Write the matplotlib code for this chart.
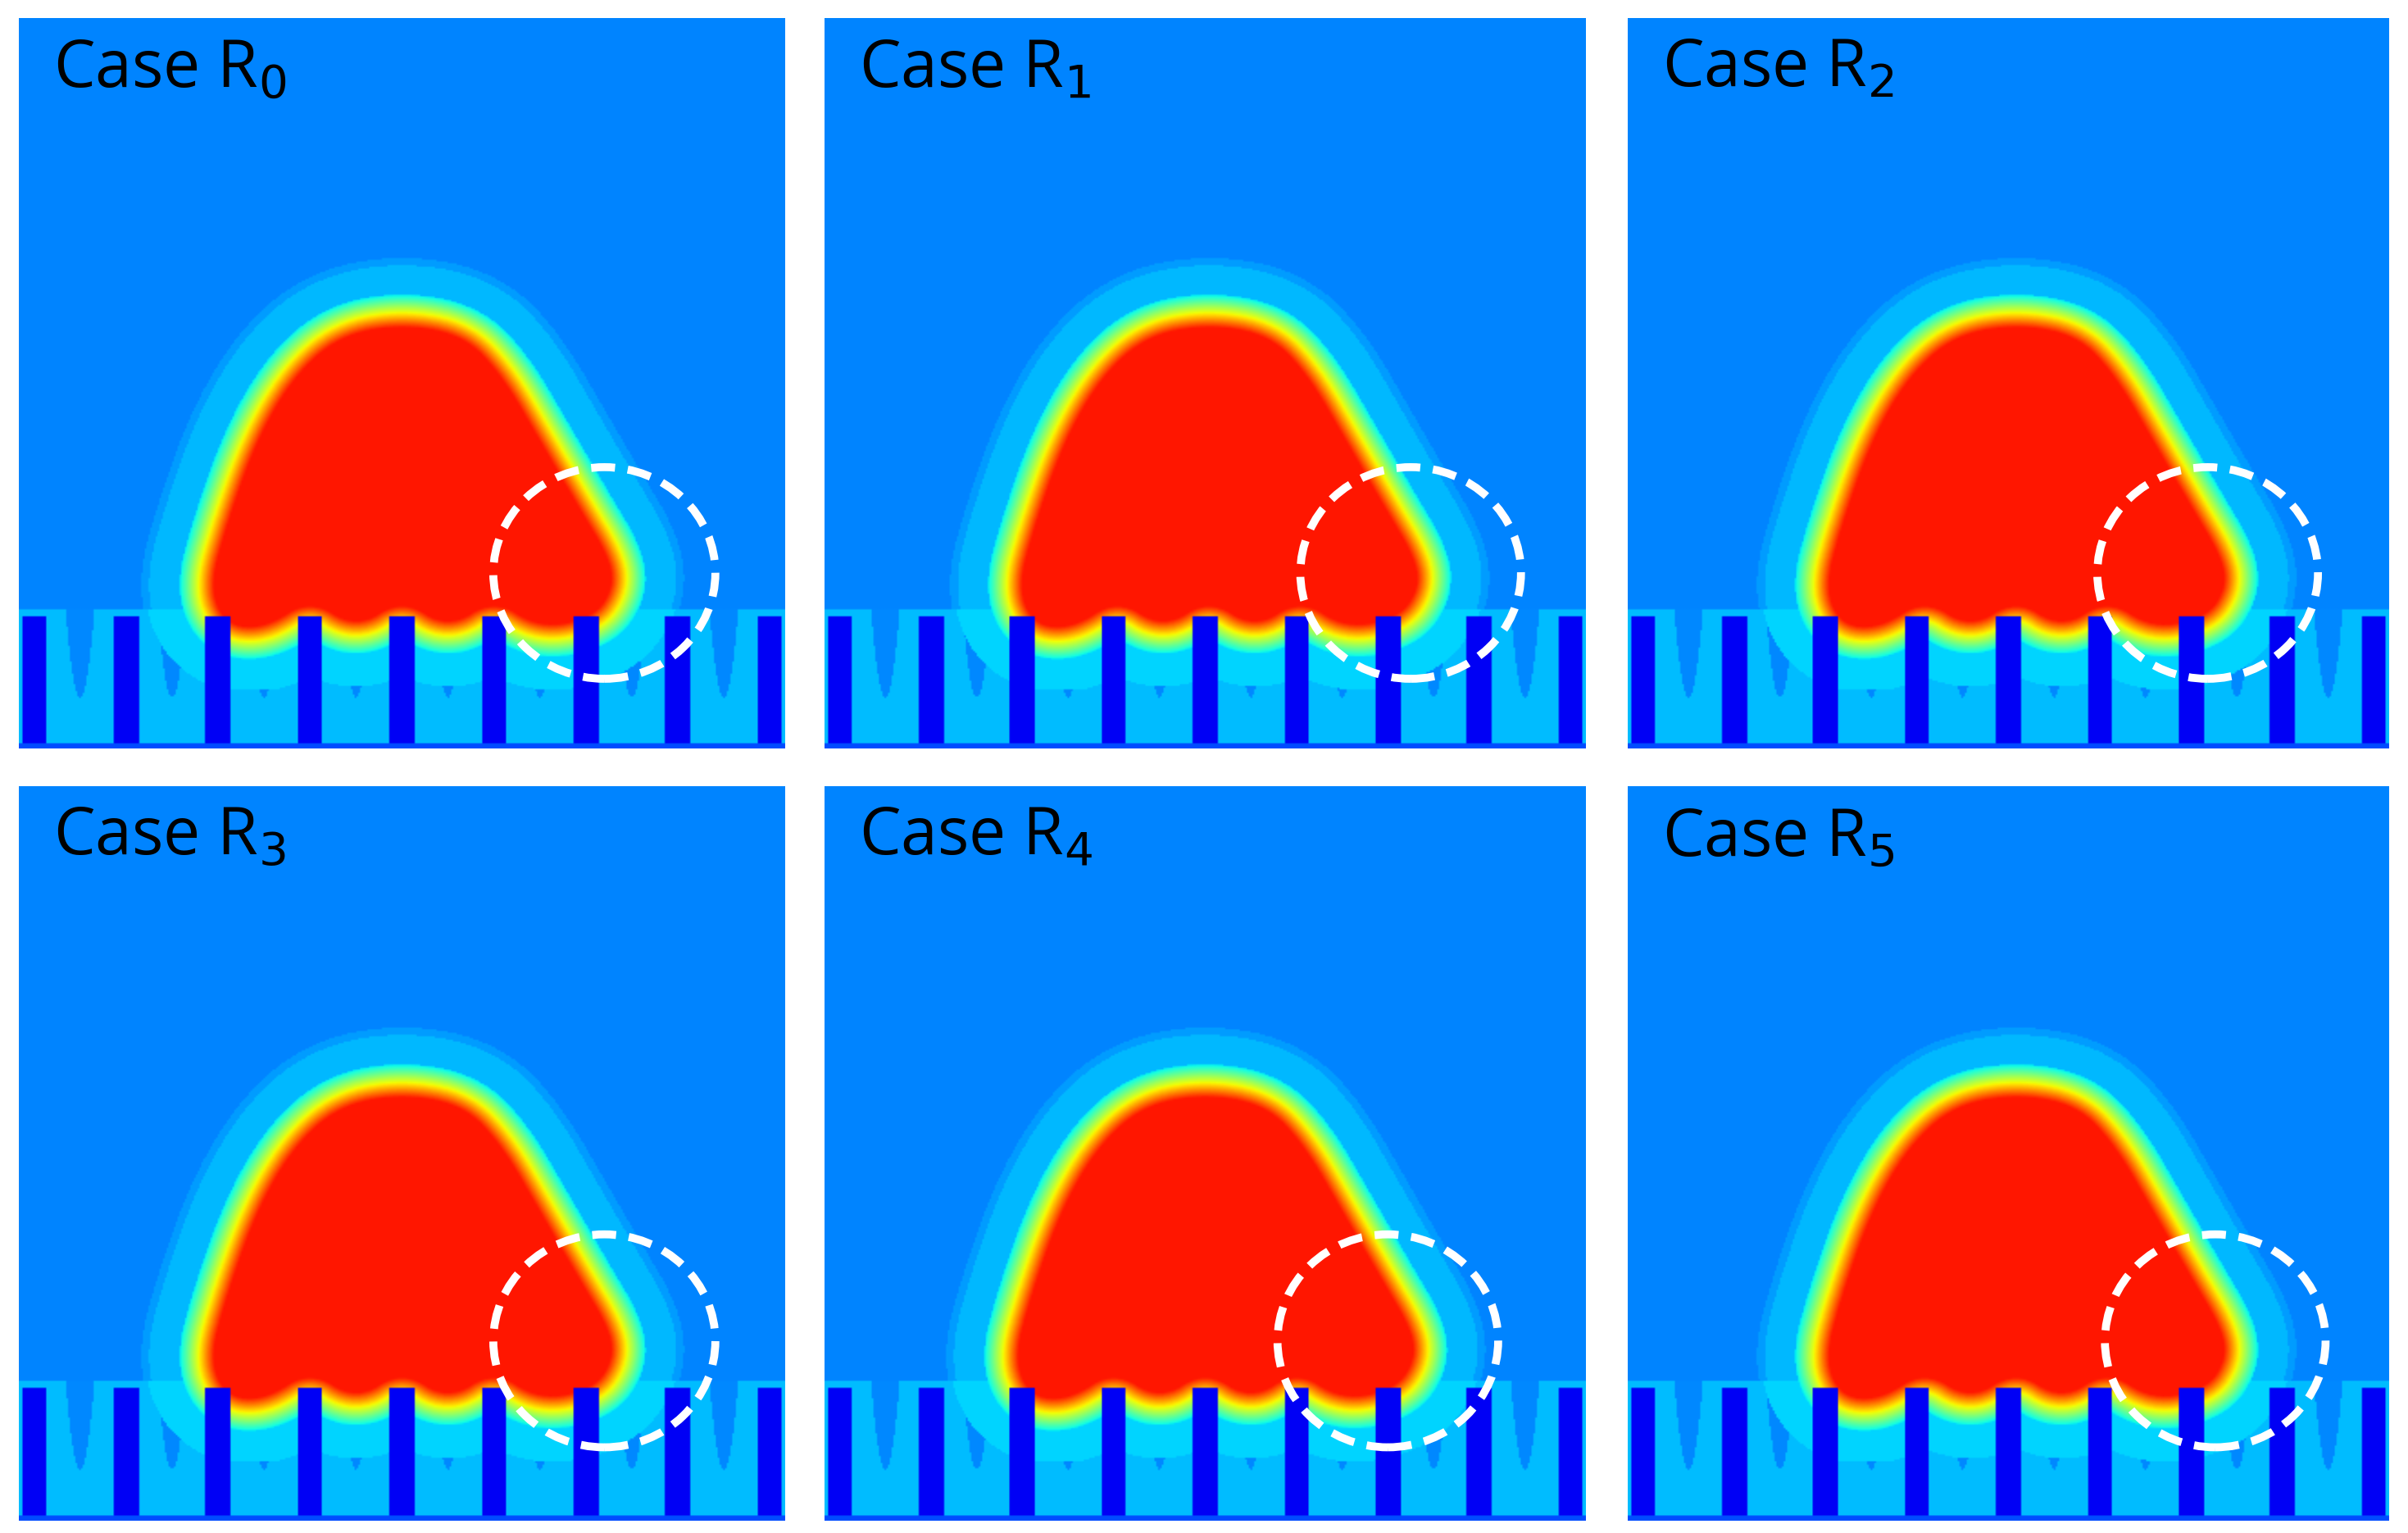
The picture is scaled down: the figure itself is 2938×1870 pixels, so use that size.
import numpy as np
import matplotlib
matplotlib.use("Agg")
import matplotlib.pyplot as plt
from matplotlib.path import Path
from matplotlib.patches import Circle

labels = ["Case R$_0$", "Case R$_1$", "Case R$_2$", "Case R$_3$", "Case R$_4$", "Case R$_5$"]
circle_x = [0.765, 0.77, 0.762, 0.765, 0.74, 0.772]
circle_y = [0.24, 0.24, 0.24, 0.245, 0.245, 0.245]
circle_r = 0.145
blob_shift = [0.0, 0.005, 0.01, 0.0, 0.0, 0.01]
pillar_x = [0.02, 0.14, 0.26, 0.38, 0.50, 0.62, 0.74, 0.86, 0.98]
pillar_w = 0.032
pillar_h = 0.18
core_x = [0.27, 0.25, 0.27, 0.31, 0.36, 0.42, 0.50, 0.58, 0.63, 0.68, 0.73, 0.77, 0.775, 0.75,
          0.68, 0.62, 0.56, 0.50, 0.44, 0.38, 0.32, 0.27]
core_y = [0.17, 0.22, 0.30, 0.42, 0.51, 0.565, 0.58, 0.565, 0.51, 0.42, 0.33, 0.26, 0.22, 0.18,
          0.165, 0.205, 0.165, 0.205, 0.165, 0.205, 0.165, 0.17]

axes_pos = [(0.0077, 0.512, 0.318, 0.476), (0.3425, 0.512, 0.316, 0.476), (0.676, 0.512, 0.316, 0.476),
            (0.0077, 0.008, 0.318, 0.479), (0.3425, 0.008, 0.316, 0.479), (0.676, 0.008, 0.316, 0.479)]

N = 420
gx, gy = np.meshgrid((np.arange(N) + 0.5) / N, (np.arange(N) + 0.5) / N)
pts = np.column_stack([gx.ravel(), gy.ravel()])


def chaikin(p, n=3):
    for _ in range(n):
        q = np.roll(p, -1, axis=0)
        p = np.vstack([np.column_stack([0.75 * p + 0.25 * q]), np.column_stack([0.25 * p + 0.75 * q])])
        p = p.reshape(2, -1, 2).transpose(1, 0, 2).reshape(-1, 2)
    return p


def field(shift):
    poly = np.column_stack([np.array(core_x[:-1]) + shift, np.array(core_y[:-1])])
    poly = chaikin(poly, 3)
    inside = Path(np.vstack([poly, poly[:1]])).contains_points(pts)
    a = poly
    b = np.roll(poly, -1, axis=0)
    ab = b - a
    d = np.full(len(pts), np.inf)
    for k in range(len(a)):
        ap = pts - a[k]
        t = np.clip((ap @ ab[k]) / (ab[k] @ ab[k]), 0, 1)
        dd = np.hypot(*(ap - t[:, None] * ab[k]).T)
        d = np.minimum(d, dd)
    d = np.where(inside, -d, d).reshape(N, N)
    v = np.full((N, N), 0.255)
    v[d < 0] = 0.885
    ramp = (d >= 0) & (d < 0.045)
    v[ramp] = 0.885 - (d[ramp] / 0.045) * 0.535
    v[(d >= 0.045) & (d < 0.085)] = 0.305
    v[(d >= 0.085) & (d < 0.095)] = 0.28
    low = gy < pillar_h + 0.01
    groove = np.full((N, N), 0.31)
    for x in pillar_x[:-1]:
        c = x + 0.06
        depth = 0.07
        m = (np.abs(gx - c) < 0.018 * np.clip((gy - depth) / (pillar_h - depth), 0, 1) ** 0.5) & (gy > depth)
        groove[m] = 0.26
    near = d < 0.09
    groove[near & (gy > 0.08)] = np.maximum(groove[near & (gy > 0.08)], 0.335)
    v[low] = np.maximum(np.where(d[low] < 0.085, v[low], 0), groove[low])
    for x in pillar_x:
        m = (np.abs(gx - x) < pillar_w / 2) & (gy < pillar_h)
        v[m] = 0.105
    v[gy < 0.006] = 0.2
    return v


fig = plt.figure(figsize=(29.38, 18.70), dpi=100)
for i in range(6):
    ax = fig.add_axes(axes_pos[i])
    v = field(blob_shift[i])
    ax.imshow(v, cmap="jet", vmin=0, vmax=1, origin="lower", extent=(0, 1, 0, 1),
              aspect="auto", interpolation="bilinear")
    ax.add_patch(Circle((circle_x[i], circle_y[i]), circle_r, fill=False, ec="white",
                        lw=7, ls=(0, (3, 1.6))))
    ax.text(0.045, 0.975, labels[i], transform=ax.transAxes, fontsize=58,
            family="Open Sans", va="top", ha="left", color="black")
    ax.set_xlim(0, 1)
    ax.set_ylim(0, 1)
    ax.axis("off")

fig.savefig("out.png", dpi=100, facecolor="white")
